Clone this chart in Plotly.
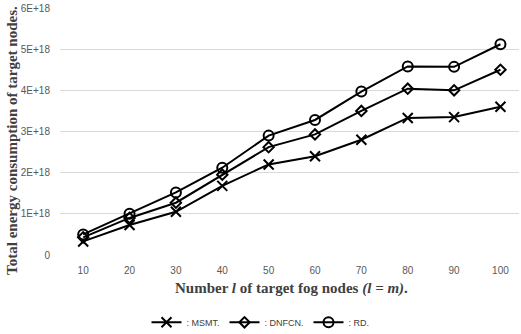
import plotly.graph_objects as go

x_vals = [10, 20, 30, 40, 50, 60, 70, 80, 90, 100]
msmt = [0.33e18, 0.73e18, 1.05e18, 1.68e18, 2.2e18, 2.4e18, 2.8e18, 3.33e18, 3.35e18, 3.6e18]
dnfcn = [0.43e18, 0.9e18, 1.27e18, 1.95e18, 2.62e18, 2.93e18, 3.5e18, 4.04e18, 4.0e18, 4.5e18]
rd = [0.5e18, 1.0e18, 1.52e18, 2.12e18, 2.9e18, 3.28e18, 3.97e18, 4.58e18, 4.57e18, 5.12e18]
y_ticks = [0, 1e18, 2e18, 3e18, 4e18, 5e18, 6e18]
y_tick_labels = ["0", "1E+18", "2E+18", "3E+18", "4E+18", "5E+18", "6E+18"]
series_names = [": MSMT.", ": DNFCN.", ": RD."]

fig = go.Figure()
specs = [(msmt, "x-thin-open", 10), (dnfcn, "diamond-open", 8), (rd, "circle-open", 10)]
for (vals, sym, sz), name in zip(specs, series_names):
    fig.add_trace(go.Scatter(
        x=x_vals, y=vals, name=name, mode="lines+markers",
        line=dict(color="black", width=2),
        marker=dict(symbol=sym, size=sz, color="black", line=dict(color="black", width=2)),
    ))

title_font = dict(family="Liberation Serif, Times New Roman", size=15, color="#404040")
fig.update_layout(
    width=521, height=334,
    margin=dict(l=60, r=2, t=8, b=79, autoexpand=False),
    plot_bgcolor="white", paper_bgcolor="white",
    font=dict(family="Liberation Sans, Arial", size=10, color="#595959"),
    showlegend=True,
    legend=dict(orientation="h", xref="container", yref="container",
                x=0.5, xanchor="center", y=0.035, yanchor="middle",
                font=dict(size=9, color="#404040"), itemwidth=30),
    xaxis=dict(
        range=[5, 104], tickvals=x_vals, ticktext=[str(v) for v in x_vals],
        showgrid=False, zeroline=False, showline=False, ticks="",
        ticklabelstandoff=8, tickfont=dict(size=10, color="#595959"),
    ),
    yaxis=dict(
        range=[0, 6e18], tickvals=y_ticks, ticktext=y_tick_labels,
        showgrid=True, gridcolor="#d9d9d9", gridwidth=1, zeroline=False, showline=False,
        ticks="", ticklabelstandoff=9, tickfont=dict(size=10, color="#595959"),
    ),
    annotations=[
        dict(text="<b>Total energy consumption of target nodes.</b>", textangle=-90,
             xref="paper", yref="paper", x=-0.1046, y=0.466, showarrow=False,
             xanchor="center", yanchor="middle", font=title_font),
        dict(text="<b>Number <i>l</i> of target fog nodes <i>(l = m)</i>.</b>",
             xref="paper", yref="paper", x=0.505, y=-0.134, showarrow=False,
             xanchor="center", yanchor="middle", font=title_font),
    ],
)
fig.write_html("out.html", config={"displayModeBar": False},
               post_script="document.body.style.margin='0';")
